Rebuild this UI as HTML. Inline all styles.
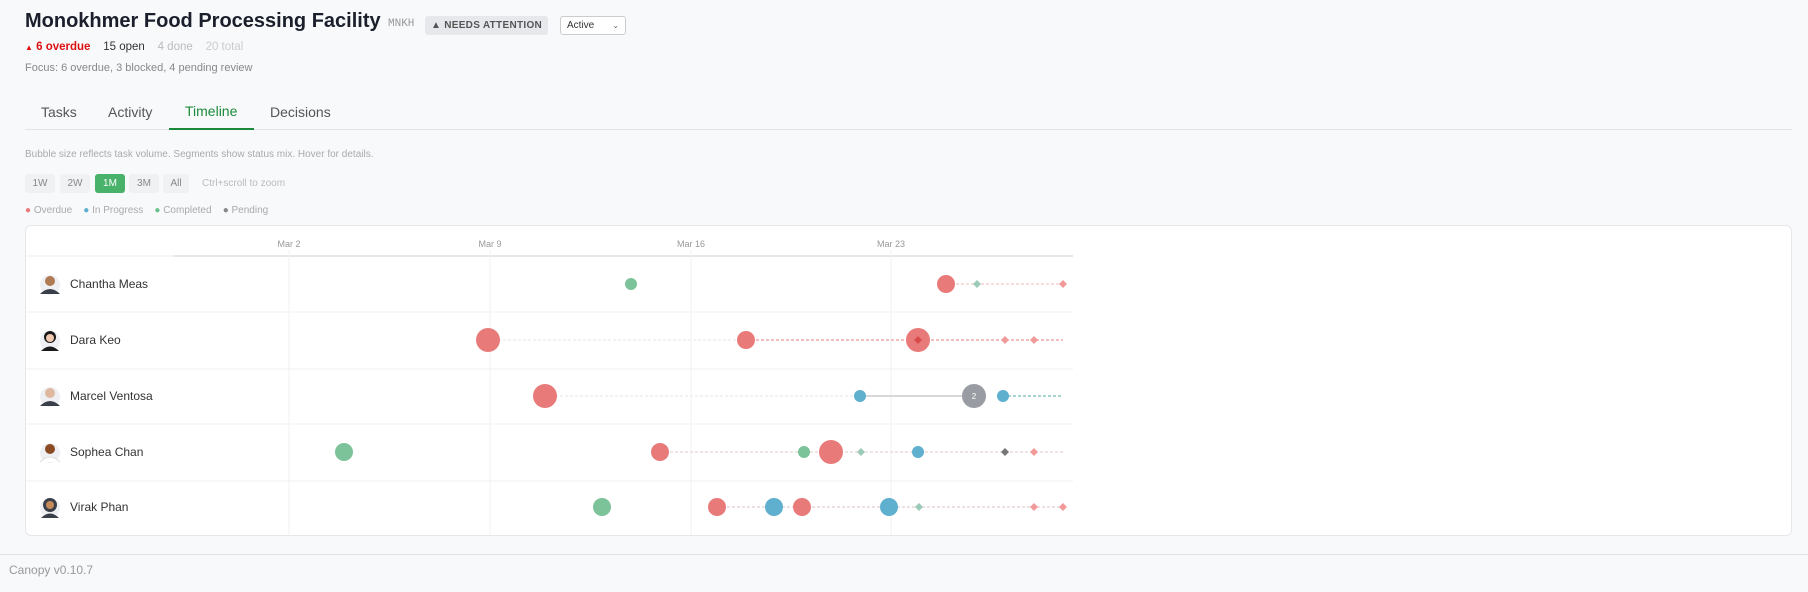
<!DOCTYPE html>
<html><head><meta charset="utf-8"><style>
*{margin:0;padding:0;box-sizing:border-box}
body{width:1808px;height:592px;background:#f8f9fb;font-family:"Liberation Sans",sans-serif;position:relative;overflow:hidden;color:#1f2430}
.a{position:absolute;white-space:nowrap}
.btn{position:absolute;top:174px;height:19px;border-radius:3px;background:#f0f1f3;color:#888;font-size:10px;line-height:19px;text-align:center}
</style></head><body>
<div class="a" style="left:25px;top:10px;font-size:20px;font-weight:bold;color:#1a1f2b">Monokhmer Food Processing Facility</div>
<div class="a" style="left:388px;top:18px;font-family:'Liberation Mono',monospace;font-size:11px;color:#999">MNKH</div>
<div class="a" style="left:425px;top:16px;width:123px;height:19px;background:#e6e8ec;border-radius:3px;font-size:10px;font-weight:bold;color:#555;line-height:19px;text-align:center;letter-spacing:.3px">▲ NEEDS ATTENTION</div>
<div class="a" style="left:560px;top:16px;width:66px;height:19px;border:1px solid #ccc;border-radius:3px;background:#fff;font-size:10px;line-height:17px;padding-left:6px;color:#333">Active<span style="position:absolute;right:6px;font-size:8px;color:#666">⌄</span></div>
<div class="a" style="left:25px;top:41px;font-size:11.5px"><span style="color:#d11;font-weight:bold"><span style="font-size:8px">▲</span> 6 overdue</span>&nbsp;&nbsp;&nbsp; <span style="color:#333">15 open</span>&nbsp;&nbsp;&nbsp; <span style="color:#bbb">4 done</span>&nbsp;&nbsp;&nbsp; <span style="color:#ccc">20 total</span></div>
<div class="a" style="left:25px;top:62px;font-size:11px;color:#888">Focus: 6 overdue, 3 blocked, 4 pending review</div>
<div class="a" style="left:25px;top:129px;width:1767px;height:1px;background:#e2e4e8"></div>
<div class="a" style="left:41px;top:104px;font-size:14px;color:#555">Tasks</div>
<div class="a" style="left:108px;top:104px;font-size:14px;color:#555">Activity</div>
<div class="a" style="left:185px;top:103px;font-size:14px;color:#1a8a3a">Timeline</div>
<div class="a" style="left:169px;top:128px;width:85px;height:2px;background:#1a8a3a"></div>
<div class="a" style="left:270px;top:104px;font-size:14px;color:#555">Decisions</div>
<div class="a" style="left:25px;top:149px;font-size:10px;color:#aaa">Bubble size reflects task volume. Segments show status mix. Hover for details.</div>
<div class="btn" style="left:25px;width:30px">1W</div>
<div class="btn" style="left:60px;width:30px">2W</div>
<div class="btn" style="left:95px;width:30px;background:#48b26b;color:#fff">1M</div>
<div class="btn" style="left:129px;width:30px">3M</div>
<div class="btn" style="left:163px;width:26px">All</div>
<div class="a" style="left:202px;top:178px;font-size:10px;color:#bbb">Ctrl+scroll to zoom</div>
<div class="a" style="left:25px;top:205px;font-size:10px;color:#aaa"><span style="color:#e97a7a">●</span> Overdue &nbsp;&nbsp;&nbsp;<span style="color:#5fb0cc">●</span> In Progress &nbsp;&nbsp;&nbsp;<span style="color:#6cc08e">●</span> Completed &nbsp;&nbsp;&nbsp;<span style="color:#888">●</span> Pending</div>
<div class="a" style="left:25px;top:225px;width:1767px;height:311px;background:#fff;border:1px solid #e5e7eb;border-radius:6px"></div>
<div class="a" style="left:0;top:554px;width:1808px;height:1px;background:#e2e4e8"></div>
<div class="a" style="left:9px;top:563px;font-size:12px;color:#999">Canopy v0.10.7</div>
<svg class="a" style="left:0;top:0" width="1808" height="592" font-family="Liberation Sans, sans-serif">
<g fill="#999" font-size="9" text-anchor="middle"><text x="289" y="247">Mar 2</text><text x="490" y="247">Mar 9</text><text x="691" y="247">Mar 16</text><text x="891" y="247">Mar 23</text></g>
<line x1="173" y1="256" x2="1073" y2="256" stroke="#e5e7eb" stroke-width="2"/>
<line x1="26" y1="256" x2="173" y2="256" stroke="#eee"/>
<g stroke="#f0f0f2"><line x1="289" y1="250" x2="289" y2="535"/><line x1="490" y1="250" x2="490" y2="535"/><line x1="691" y1="250" x2="691" y2="535"/><line x1="891" y1="250" x2="891" y2="535"/>
<line x1="26" y1="312" x2="1073" y2="312"/><line x1="26" y1="369" x2="1073" y2="369"/><line x1="26" y1="424" x2="1073" y2="424"/><line x1="26" y1="481" x2="1073" y2="481"/></g>
<g font-size="12" fill="#333"><text x="70" y="288">Chantha Meas</text><text x="70" y="344">Dara Keo</text><text x="70" y="400">Marcel Ventosa</text><text x="70" y="456">Sophea Chan</text><text x="70" y="511">Virak Phan</text></g>
<g><circle cx="50" cy="285" r="10" fill="#eef0f3"/><circle cx="50" cy="281" r="5" fill="#b07a55"/><path d="M40 294 q10-10 20 0" fill="#3a3f4a"/>
<circle cx="50" cy="341" r="10" fill="#eef0f3"/><circle cx="50" cy="337" r="6" fill="#1a1a1a"/><circle cx="50" cy="338" r="4" fill="#f2c9b0"/><path d="M41 351 q9-9 18 0" fill="#1a1a1a"/>
<circle cx="50" cy="397" r="10" fill="#eef0f3"/><circle cx="50" cy="393" r="5" fill="#e0b8a0"/><path d="M40 406 q10-10 20 0" fill="#3a3f4a"/>
<circle cx="50" cy="453" r="10" fill="#eef0f3"/><circle cx="50" cy="449" r="5" fill="#8a4a22"/><path d="M40 462 q10-10 20 0" fill="#fff" stroke="#ddd"/>
<circle cx="50" cy="508" r="10" fill="#eef0f3"/><circle cx="50" cy="505" r="7" fill="#3a3f4a"/><circle cx="50" cy="505" r="4" fill="#c58a5a"/><path d="M41 518 q9-9 18 0" fill="#3a3f4a"/></g>
<g stroke-dasharray="3,2" stroke-width="1.5">
<line x1="946" y1="284" x2="1063" y2="284" stroke="#f3d0d0"/>
<line x1="488" y1="340" x2="746" y2="340" stroke="#eee"/><line x1="746" y1="340" x2="1063" y2="340" stroke="#f0a8a8"/>
<line x1="545" y1="396" x2="860" y2="396" stroke="#eee"/><line x1="860" y1="396" x2="974" y2="396" stroke="#ccc" stroke-dasharray="none"/><line x1="1003" y1="396" x2="1063" y2="396" stroke="#8cc9bd"/>
<line x1="660" y1="452" x2="1063" y2="452" stroke="#e8dcdc"/>
<line x1="717" y1="507" x2="1063" y2="507" stroke="#e6d6da"/></g>
<g fill="#e97a7a"><circle cx="946" cy="284" r="9"/><circle cx="488" cy="340" r="12"/><circle cx="746" cy="340" r="9"/><circle cx="918" cy="340" r="12"/><circle cx="545" cy="396" r="12"/><circle cx="660" cy="452" r="9"/><circle cx="831" cy="452" r="12"/><circle cx="717" cy="507" r="9"/><circle cx="802" cy="507" r="9"/></g>
<g fill="#7cc39a"><circle cx="631" cy="284" r="6"/><circle cx="344" cy="452" r="9"/><circle cx="804" cy="452" r="6"/><circle cx="602" cy="507" r="9"/></g>
<g fill="#5fafcf"><circle cx="860" cy="396" r="6"/><circle cx="1003" cy="396" r="6"/><circle cx="918" cy="452" r="6"/><circle cx="774" cy="507" r="9"/><circle cx="889" cy="507" r="9"/></g>
<circle cx="974" cy="396" r="12" fill="#9a9ca3"/><text x="974" y="399" font-size="8" fill="#fff" text-anchor="middle">2</text>
<g><path d="M977 280l4 4-4 4-4-4z" fill="#9ccab8"/><path d="M1063 280l4 4-4 4-4-4z" fill="#f09a9a"/>
<path d="M918 336l4 4-4 4-4-4z" fill="#d94a4a"/><path d="M1005 336l4 4-4 4-4-4z" fill="#f09a9a"/><path d="M1034 336l4 4-4 4-4-4z" fill="#f09a9a"/>
<path d="M861 448l4 4-4 4-4-4z" fill="#9ccab8"/><path d="M1005 448l4 4-4 4-4-4z" fill="#777"/><path d="M1034 448l4 4-4 4-4-4z" fill="#f09a9a"/>
<path d="M919 503l4 4-4 4-4-4z" fill="#9ccab8"/><path d="M1034 503l4 4-4 4-4-4z" fill="#f09a9a"/><path d="M1063 503l4 4-4 4-4-4z" fill="#f09a9a"/></g>
</svg>
</body></html>
